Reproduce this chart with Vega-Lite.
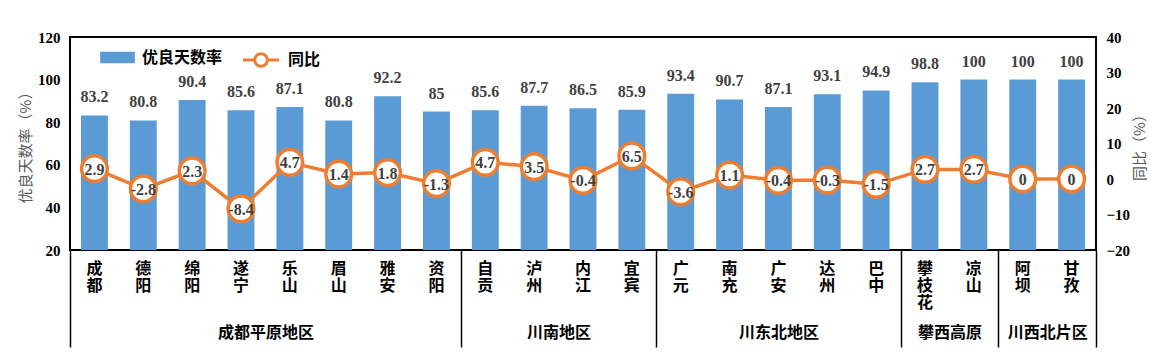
{
  "$schema": "https://vega.github.io/schema/vega-lite/v6.json",
  "width": 1026,
  "height": 213,
  "autosize": {"type": "none"},
  "padding": {"left": 70, "top": 37, "right": 68, "bottom": 108},
  "background": "white",
  "config": {"view": {"stroke": "black", "strokeWidth": 2}, "axis": {"grid": false}},
  "datasets": {
    "cities": [
      {"city": "成都", "rate": 83.2, "yoy": 2.9},
      {"city": "德阳", "rate": 80.8, "yoy": -2.8},
      {"city": "绵阳", "rate": 90.4, "yoy": 2.3},
      {"city": "遂宁", "rate": 85.6, "yoy": -8.4},
      {"city": "乐山", "rate": 87.1, "yoy": 4.7},
      {"city": "眉山", "rate": 80.8, "yoy": 1.4},
      {"city": "雅安", "rate": 92.2, "yoy": 1.8},
      {"city": "资阳", "rate": 85, "yoy": -1.3},
      {"city": "自贡", "rate": 85.6, "yoy": 4.7},
      {"city": "泸州", "rate": 87.7, "yoy": 3.5},
      {"city": "内江", "rate": 86.5, "yoy": -0.4},
      {"city": "宜宾", "rate": 85.9, "yoy": 6.5},
      {"city": "广元", "rate": 93.4, "yoy": -3.6},
      {"city": "南充", "rate": 90.7, "yoy": 1.1},
      {"city": "广安", "rate": 87.1, "yoy": -0.4},
      {"city": "达州", "rate": 93.1, "yoy": -0.3},
      {"city": "巴中", "rate": 94.9, "yoy": -1.5},
      {"city": "攀枝花", "rate": 98.8, "yoy": 2.7},
      {"city": "凉山", "rate": 100, "yoy": 2.7},
      {"city": "阿坝", "rate": 100, "yoy": 0},
      {"city": "甘孜", "rate": 100, "yoy": 0}
    ],
    "groups": [
      {"group": "成都平原地区", "start": 0, "end": 8},
      {"group": "川南地区", "start": 8, "end": 12},
      {"group": "川东北地区", "start": 12, "end": 17},
      {"group": "攀西高原", "start": 17, "end": 19},
      {"group": "川西北片区", "start": 19, "end": 21}
    ]
  },
  "layer": [
    {
      "data": {"name": "cities"},
      "encoding": {
        "x": {
          "field": "city", "type": "nominal", "sort": null,
          "scale": {"paddingInner": 0.45, "paddingOuter": 0.225},
          "axis": {
            "orient": "bottom", "title": null, "ticks": false, "domain": false, "labelAngle": 0,
            "labelExpr": "split(datum.label, '')",
            "labelFont": "Noto Sans CJK SC", "labelFontWeight": "bold", "labelFontSize": 16,
            "labelColor": "black", "labelLineHeight": 17, "labelPadding": 10, "labelBaseline": "top",
            "labelOverlap": false
          }
        },
        "y": {
          "field": "rate", "type": "quantitative",
          "scale": {"domain": [20, 120], "nice": false, "zero": false},
          "axis": {
            "values": [20, 40, 60, 80, 100, 120], "ticks": false, "domain": false,
            "labelFont": "Liberation Serif", "labelFontWeight": "bold", "labelFontSize": 15,
            "labelColor": "black", "labelPadding": 10, "labelOverlap": false,
            "title": "优良天数率（%）", "titleFont": "Noto Sans CJK SC", "titleFontWeight": "normal",
            "titleFontSize": 15, "titleColor": "#595959", "titlePadding": 4
          }
        }
      },
      "layer": [
        {
          "mark": {"type": "bar"},
          "encoding": {
            "y2": {"datum": 20},
            "color": {
              "datum": "优良天数率", "type": "nominal",
              "scale": {"range": ["#5B9BD5"]},
              "legend": {
                "orient": "none", "legendX": 30, "legendY": 3, "title": null, "padding": 0,
                "symbolType": "M-1,-0.33H1V0.33H-1Z", "symbolSize": 1200, "symbolStrokeWidth": 0,
                "labelFont": "Noto Sans CJK SC", "labelFontWeight": "bold", "labelFontSize": 16,
                "labelColor": "black", "labelOffset": 7
              }
            }
          }
        },
        {
          "mark": {"type": "text", "font": "Liberation Serif", "fontWeight": "bold", "fontSize": 16, "color": "#404040", "baseline": "alphabetic", "dy": -13},
          "encoding": {
            "text": {"field": "rate", "type": "nominal"}
          }
        }
      ]
    },
    {
      "data": {"name": "cities"},
      "encoding": {
        "x": {"field": "city", "type": "nominal", "sort": null, "axis": null},
        "y": {
          "field": "yoy", "type": "quantitative",
          "scale": {"domain": [-20, 40], "nice": false, "zero": false},
          "axis": {
            "orient": "right", "values": [-20, -10, 0, 10, 20, 30, 40], "ticks": false, "domain": false,
            "labelFont": "Liberation Serif", "labelFontWeight": "bold", "labelFontSize": 15,
            "labelColor": "black", "labelPadding": 10, "labelOverlap": false,
            "title": "同比（%）", "titleAngle": -90, "titleBaseline": "top", "titleFont": "Noto Sans CJK SC", "titleFontWeight": "normal",
            "titleFontSize": 15, "titleColor": "#595959", "titlePadding": 3
          }
        }
      },
      "layer": [
        {
          "mark": {"type": "line", "strokeWidth": 3.5},
          "encoding": {
            "stroke": {
              "datum": "同比", "type": "nominal",
              "scale": {"range": ["#ED7D31"]},
              "legend": {
                "orient": "none", "legendX": 171, "legendY": 3, "title": null, "padding": 0,
                "symbolType": "M-1,0H-0.35M0.35,0H1M-0.35,0A0.35,0.35 0 1,1 0.35,0A0.35,0.35 0 1,1 -0.35,0Z",
                "symbolSize": 1300, "symbolStrokeWidth": 3, "symbolFillColor": "white",
                "labelFont": "Noto Sans CJK SC", "labelFontWeight": "bold", "labelFontSize": 16,
                "labelColor": "black", "labelOffset": 7
              }
            }
          }
        },
        {
          "mark": {"type": "point", "filled": true, "fill": "white", "stroke": "#ED7D31", "strokeWidth": 3.5, "size": 660, "opacity": 1}
        },
        {
          "mark": {"type": "text", "font": "Liberation Serif", "fontWeight": "bold", "fontSize": 16, "color": "#404040", "baseline": "middle", "dy": 1},
          "encoding": {
            "text": {"field": "yoy", "type": "nominal"}
          }
        }
      ]
    },
    {
      "data": {"name": "groups"},
      "mark": {"type": "point", "opacity": 0},
      "encoding": {
        "x": {
          "field": "start", "type": "quantitative",
          "scale": {"domain": [0, 21], "nice": false, "zero": false},
          "axis": {
            "orient": "bottom",
            "values": [0, 4, 8, 10, 12, 14.5, 17, 18, 19, 20, 21],
            "title": null, "domain": false, "grid": false,
            "tickSize": 97, "tickColor": "black", "tickWidth": 1.5,
            "tickOpacity": {"condition": {"test": "indexof([0, 8, 12, 17, 19, 21], datum.value) >= 0", "value": 1}, "value": 0},
            "labelExpr": "datum.value == 4 ? '成都平原地区' : datum.value == 10 ? '川南地区' : datum.value == 14.5 ? '川东北地区' : datum.value == 18 ? '攀西高原' : datum.value == 20 ? '川西北片区' : ''",
            "labelFont": "Noto Sans CJK SC", "labelFontWeight": "bold", "labelFontSize": 16,
            "labelColor": "black", "labelPadding": -23, "labelBaseline": "top",
            "labelOverlap": false, "labelFlush": false, "labelBound": false
          }
        }
      }
    }
  ],
  "resolve": {"scale": {"x": "independent", "y": "independent", "color": "independent", "stroke": "independent"}}
}
